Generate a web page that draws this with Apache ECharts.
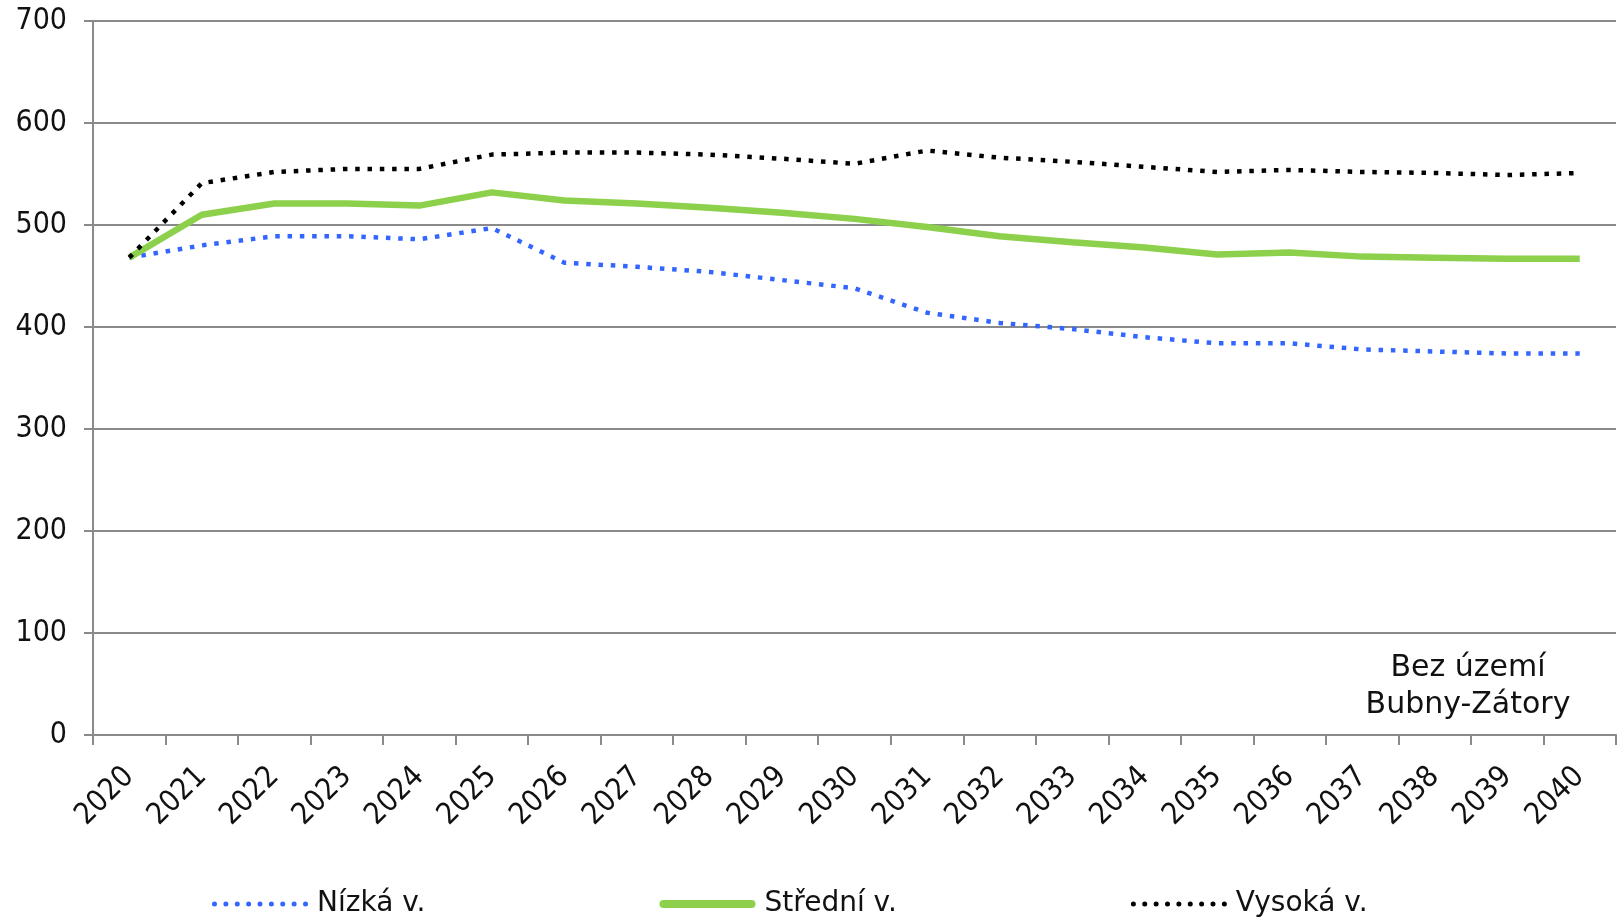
<!DOCTYPE html>
<html>
<head>
<meta charset="utf-8">
<script src="https://cdn.jsdelivr.net/npm/echarts@6/dist/echarts.min.js"></script>
<style>
html,body{margin:0;padding:0;background:#fff;}
#chart{width:1624px;height:917px;}
</style>
</head>
<body>
<div id="chart"></div>
<script>
const years = ['2020','2021','2022','2023','2024','2025','2026','2027','2028','2029','2030',
  '2031','2032','2033','2034','2035','2036','2037','2038','2039','2040'];
const nizka = [468,480,489,489,486,497,463,459,454,446,438,414,404,398,390,384,384,378,376,374,374];
const stredni = [468,510,521,521,519,532,524,521,517,512,506,498,489,483,478,471,473,469,468,467,467];
const vysoka = [468,541,552,555,555,569,571,571,569,565,560,573,566,562,557,552,554,552,551,549,551];
const seriesNames = ['Nízká v.','Střední v.','Vysoká v.'];
const yTicks = {min:0, max:700, interval:100};
const noteText = 'Bez území\nBubny-Zátory';

const FONT_C = '"DejaVu Sans Condensed", "DejaVu Sans", sans-serif';
const FONT = '"DejaVu Sans", sans-serif';

// legend icons (dotted and thick solid line samples)
function dottedIcon(){
  let p = 'path://M0,0h0.01v8h-0.01z';
  for (let i = 0; i < 9; i++) {
    const x = i * 11.375;
    p += ' M' + x.toFixed(2) + ',4 a2.5,2.5 0 1 0 5,0 a2.5,2.5 0 1 0 -5,0 z';
  }
  return p;
}
const solidIcon = 'path://M4,0H92A4,4 0 0 1 92,8H4A4,4 0 0 1 4,0Z';

const chart = echarts.init(document.getElementById('chart'), null, {renderer:'canvas'});
chart.setOption({
  animation:false,
  backgroundColor:'#fff',
  grid:{left:93, right:8, top:21, bottom:182, containLabel:false},
  legend:{
    left:207, top:885, itemWidth:96, itemHeight:8, itemGap:234,
    textStyle:{fontFamily:FONT, fontSize:28, color:'#111', padding:[0,0,0,4]},
    data:[
      {name:seriesNames[0], icon:dottedIcon()},
      {name:seriesNames[1], icon:solidIcon},
      {name:seriesNames[2], icon:dottedIcon()}
    ]
  },
  xAxis:{
    type:'category', data:years, boundaryGap:true,
    axisLine:{lineStyle:{color:'#8a8a8a', width:2}},
    axisTick:{show:true, length:10, lineStyle:{color:'#8a8a8a', width:2}},
    axisLabel:{interval:0, rotate:45, margin:37, fontFamily:FONT_C, fontSize:30, color:'#111'},
    splitLine:{show:false}
  },
  yAxis:{
    type:'value', min:yTicks.min, max:yTicks.max, interval:yTicks.interval,
    axisLine:{show:true, lineStyle:{color:'#8a8a8a', width:2}},
    axisTick:{show:true, length:9, lineStyle:{color:'#8a8a8a', width:2}},
    axisLabel:{margin:26, fontFamily:FONT_C, fontSize:30, color:'#111'},
    splitLine:{show:true, lineStyle:{color:'#8a8a8a', width:2}}
  },
  graphic:[{
    type:'text', x:1468, y:650,
    style:{text:noteText, textAlign:'center', textVerticalAlign:'top', verticalAlign:'top',
           fontFamily:FONT, fontSize:30, lineHeight:37, fill:'#111'}
  }],
  series:[
    {name:seriesNames[0], type:'line', data:nizka, symbol:'none', showSymbol:false,
     lineStyle:{color:'#3366ff', width:4.5, type:[4.5,7.8]}, itemStyle:{color:'#3366ff'}},
    {name:seriesNames[1], type:'line', data:stredni, symbol:'none', showSymbol:false,
     lineStyle:{color:'#8cd04b', width:6.5}, itemStyle:{color:'#8cd04b'}},
    {name:seriesNames[2], type:'line', data:vysoka, symbol:'none', showSymbol:false,
     lineStyle:{color:'#000', width:4.5, type:[4.5,7.8]}, itemStyle:{color:'#000'}}
  ]
});
</script>
</body>
</html>
